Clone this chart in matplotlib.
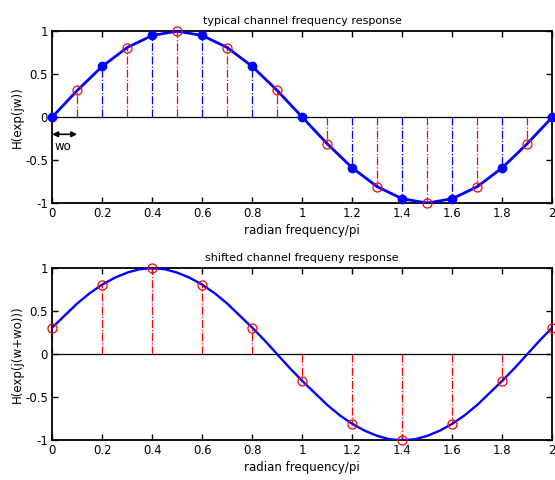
import matplotlib
matplotlib.use("Agg")
import matplotlib.pyplot as plt
import numpy as np

# top panel: samples of the channel response, every 0.1 (radian freq / pi)
w_top = [0.0, 0.1, 0.2, 0.3, 0.4, 0.5, 0.6, 0.7, 0.8, 0.9, 1.0,
         1.1, 1.2, 1.3, 1.4, 1.5, 1.6, 1.7, 1.8, 1.9, 2.0]
h_top = [0.00, 0.31, 0.59, 0.81, 0.95, 1.00, 0.95, 0.81, 0.59, 0.31, 0.00,
         -0.31, -0.59, -0.81, -0.95, -1.00, -0.95, -0.81, -0.59, -0.31, 0.00]

# bottom panel: shifted response curve (every 0.05) and its samples (every 0.2)
w_curve = [round(0.05 * k, 2) for k in range(41)]
h_curve = [0.31, 0.45, 0.59, 0.71, 0.81, 0.89, 0.95, 0.99, 1.00, 0.99,
           0.95, 0.89, 0.81, 0.71, 0.59, 0.45, 0.31, 0.16, 0.00, -0.16,
           -0.31, -0.45, -0.59, -0.71, -0.81, -0.89, -0.95, -0.99, -1.00, -0.99,
           -0.95, -0.89, -0.81, -0.71, -0.59, -0.45, -0.31, -0.16, 0.00, 0.16,
           0.31]
w_bot = [0.0, 0.2, 0.4, 0.6, 0.8, 1.0, 1.2, 1.4, 1.6, 1.8, 2.0]
h_bot = [0.31, 0.81, 1.00, 0.81, 0.31, -0.31, -0.81, -1.00, -0.81, -0.31, 0.31]

xticks = [0, 0.2, 0.4, 0.6, 0.8, 1, 1.2, 1.4, 1.6, 1.8, 2]
xtick_labels = ["0", "0.2", "0.4", "0.6", "0.8", "1", "1.2", "1.4", "1.6", "1.8", "2"]
yticks = [-1, -0.5, 0, 0.5, 1]
ytick_labels = ["-1", "-0.5", "0", "0.5", "1"]

BLUE = (0, 0, 1)
RED = (1, 0, 0)

plt.rcParams["font.family"] = "DejaVu Sans"
plt.rcParams["font.size"] = 8

fig = plt.figure(figsize=(5.55, 4.8), dpi=100)
ax1 = fig.add_axes([0.094, 0.577, 0.901, 0.358])
ax2 = fig.add_axes([0.094, 0.083, 0.901, 0.358])


def style_axes(ax):
    ax.set_xlim(0, 2)
    ax.set_ylim(-1, 1)
    ax.set_xticks(xticks)
    ax.set_xticklabels(xtick_labels)
    ax.set_yticks(yticks)
    ax.set_yticklabels(ytick_labels)
    ax.tick_params(direction="in", length=4, width=1, top=True, right=True,
                   labelsize=8.5, pad=3)
    for s in ax.spines.values():
        s.set_linewidth(1.3)
    ax.axhline(0, color="black", lw=0.9, zorder=1)


# ---- top panel ----
style_axes(ax1)
for i, (w, h) in enumerate(zip(w_top, h_top)):
    c = BLUE if i % 2 == 0 else RED
    ax1.plot([w, w], [0, h], linestyle="-.", color=c, lw=0.9, zorder=2)
ax1.plot(w_top, h_top, color=BLUE, lw=2, zorder=3)
ax1.plot(w_top[::2], h_top[::2], "o", color=BLUE, ms=6, zorder=4, clip_on=False)
ax1.plot(w_top[1::2], h_top[1::2], "o", mfc="none", mec=RED, ms=6.5, mew=0.9,
         zorder=5, clip_on=False)
ax1.annotate("", xy=(0.0, -0.2), xytext=(0.1, -0.2),
             arrowprops=dict(arrowstyle="<|-|>", color="black", lw=1.2,
                             mutation_scale=8, shrinkA=0, shrinkB=0))
ax1.text(0.01, -0.34, "wo", fontsize=8.5, va="center", ha="left")
ax1.set_title("typical channel frequency response", fontsize=8, pad=5)
ax1.set_xlabel("radian frequency/pi", fontsize=8.5, labelpad=3)
ax1.set_ylabel("H(exp(jw))", fontsize=8.5, labelpad=1)

# ---- bottom panel ----
style_axes(ax2)
for w, h in zip(w_bot, h_bot):
    ax2.plot([w, w], [0, h], linestyle="-.", color=RED, lw=0.9, zorder=2)
ax2.plot(w_curve, h_curve, color=BLUE, lw=1.7, zorder=3)
ax2.plot(w_bot, h_bot, "o", mfc="none", mec=RED, ms=6.5, mew=0.9, zorder=5,
         clip_on=False)
ax2.set_title("shifted channel frequeny response", fontsize=8, pad=5)
ax2.set_xlabel("radian frequency/pi", fontsize=8.5, labelpad=3)
ax2.set_ylabel("H(exp(j(w+wo)))", fontsize=8.5, labelpad=1)

fig.savefig("out.png", dpi=100)
